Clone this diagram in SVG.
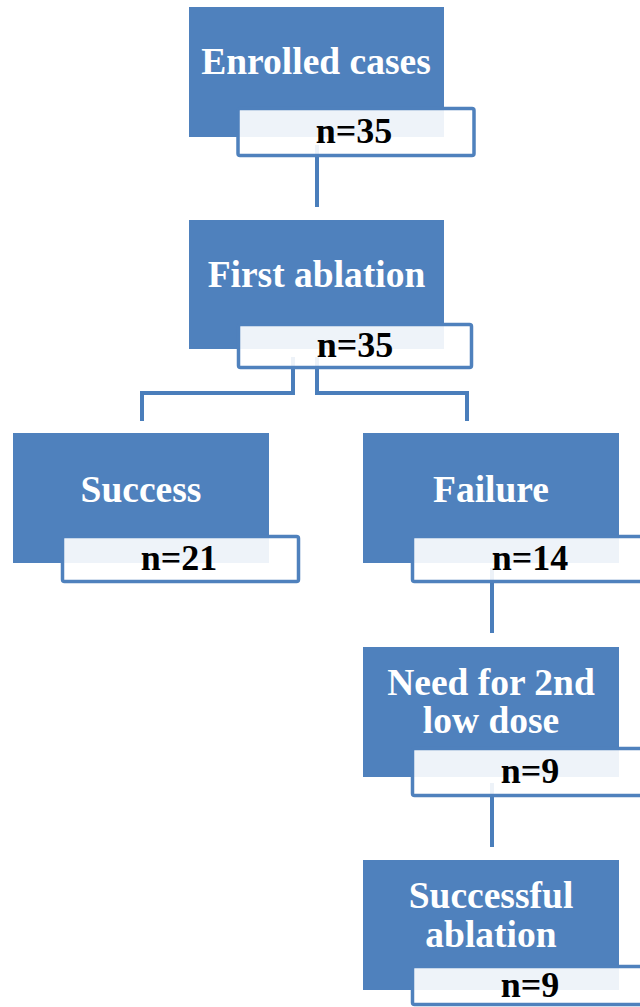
<svg xmlns="http://www.w3.org/2000/svg" width="640" height="1007" viewBox="0 0 640 1007">
<style>
.blue{fill:#4F81BD}
.nbox{fill:#FFFFFF;fill-opacity:0.9;stroke:#4F81BD;stroke-width:3.5}
.conn{fill:none;stroke:#4A7EBB;stroke-width:4}
.t{font-family:"Liberation Serif","Times New Roman",serif;font-weight:bold;font-size:36px;text-anchor:middle}
.tw{fill:#FFFFFF;font-size:37.5px}
.tb{fill:#000000}
</style>
<rect width="640" height="1007" fill="#FFFFFF"/>
<g id="connectors">
<path class="conn" d="M317,145 V207"/>
<path class="conn" d="M293,357 V393 H142 V421"/>
<path class="conn" d="M317,357 V393 H467 V421"/>
<path class="conn" d="M492,568 V633"/>
<path class="conn" d="M492,783 V847"/>
</g>
<g id="enrolled">
<rect class="blue" x="189" y="7" width="255" height="130"/>
<rect class="nbox" x="238" y="108.5" width="236" height="47" rx="2"/>
<text class="t tw" x="316" y="74">Enrolled cases</text>
<text class="t tb" x="354" y="143">n=35</text>
</g>
<g id="first-ablation">
<rect class="blue" x="189" y="220" width="255" height="129"/>
<rect class="nbox" x="238.5" y="324.5" width="233" height="43" rx="2"/>
<text class="t tw" x="316.5" y="287">First ablation</text>
<text class="t tb" x="355" y="357">n=35</text>
</g>
<g id="success">
<rect class="blue" x="13" y="433" width="256" height="130"/>
<rect class="nbox" x="62.5" y="536.5" width="236" height="45" rx="2"/>
<text class="t tw" x="141" y="502">Success</text>
<text class="t tb" x="179" y="570">n=21</text>
</g>
<g id="failure">
<rect class="blue" x="363" y="433" width="256" height="130"/>
<rect class="nbox" x="412.5" y="536.5" width="236" height="45" rx="2"/>
<text class="t tw" x="491" y="502">Failure</text>
<text class="t tb" x="530" y="570">n=14</text>
</g>
<g id="second-dose">
<rect class="blue" x="363" y="647" width="256" height="130"/>
<rect class="nbox" x="412.5" y="748.5" width="236" height="47" rx="2"/>
<text class="t tw" x="491" y="695">Need for 2nd</text>
<text class="t tw" x="491" y="733">low dose</text>
<text class="t tb" x="530" y="783">n=9</text>
</g>
<g id="successful-ablation">
<rect class="blue" x="363" y="860" width="256" height="130"/>
<rect class="nbox" x="412.5" y="966.5" width="236" height="38" rx="2"/>
<text class="t tw" x="491" y="908">Successful</text>
<text class="t tw" x="491" y="947">ablation</text>
<text class="t tb" x="530" y="997">n=9</text>
</g>
</svg>
